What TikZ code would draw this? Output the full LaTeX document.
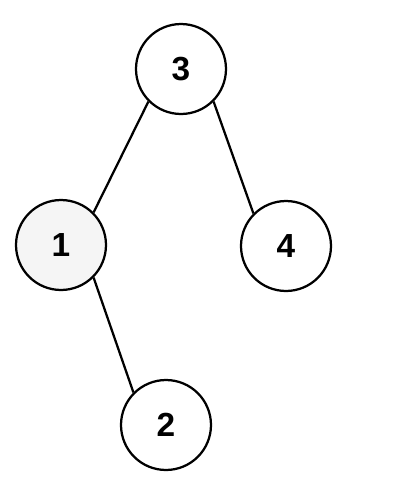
\documentclass[tikz,border=0pt]{standalone}
\usepackage{fontspec}
\setmainfont{Liberation Sans}
\begin{document}
\begin{tikzpicture}[x=0.02cm,y=-0.02cm,
    treenode/.style={circle,draw,line width=0.045cm,minimum size=1.8cm,inner sep=0pt,
      font=\fontsize{19}{22}\selectfont\bfseries},
    visited/.style={fill=black!4},
    edge/.style={line width=0.045cm}]
    \useasboundingbox (0,0) rectangle (409,488);
    \node[treenode] (n3) at (181,69) {3};
    \node[treenode,visited] (n1) at (61,245) {1};
    \node[treenode] (n4) at (286,246) {4};
    \node[treenode] (n2) at (166,425) {2};
    \draw[edge] (n3.south west) -- (n1.north east);
    \draw[edge] (n3.south east) -- (n4.north west);
    \draw[edge] (n1.south east) -- (n2.north west);
\end{tikzpicture}
\end{document}
